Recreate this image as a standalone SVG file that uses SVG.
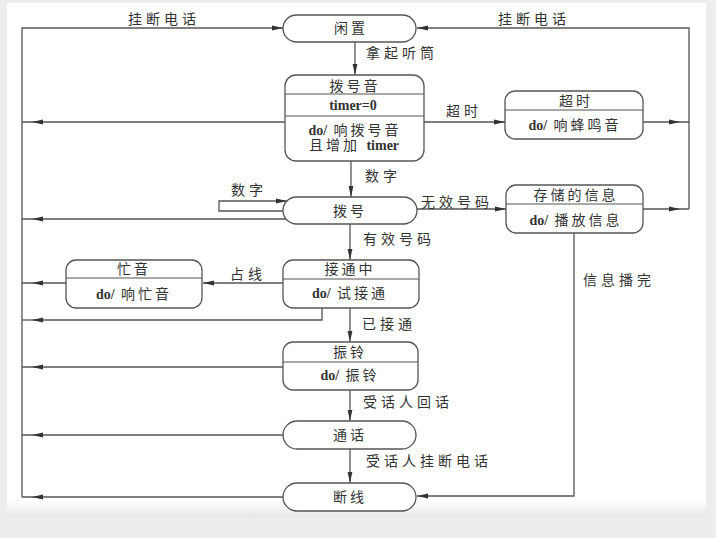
<svg xmlns="http://www.w3.org/2000/svg" width="716" height="538" viewBox="0 0 716 538">
<defs>
<marker id="ah" markerWidth="12" markerHeight="6" refX="11" refY="3" orient="auto" markerUnits="userSpaceOnUse">
<path d="M0,0.6 L11,3 L0,5.4 Z" fill="#333"/>
</marker>
<linearGradient id="bot" x1="0" y1="0" x2="0" y2="1">
<stop offset="0" stop-color="#ffffff"/>
<stop offset="1" stop-color="#e6e6e6"/>
</linearGradient>
<style>
.n{fill:#fff;stroke:#555;stroke-width:1.3}
.d{stroke:#555;stroke-width:1.2;fill:none}
.c{stroke:#555;stroke-width:1.3;fill:none}
.e{marker-end:url(#ah)}
.m{marker-mid:url(#ah)}
text{font-family:"Liberation Serif","Noto Sans CJK SC",serif;font-size:14px;fill:#333;dominant-baseline:central}
.t{text-anchor:middle;letter-spacing:3px}
.l{letter-spacing:4px}
.b{font-weight:bold;letter-spacing:0}
</style>
</defs>
<rect x="0" y="0" width="716" height="538" fill="#ededed"/>
<rect x="7" y="3" width="699" height="515" fill="#fff"/>
<rect x="7" y="500" width="699" height="18" fill="url(#bot)"/>

<g id="connectors">
<path class="c e" d="M355 42 V75"/>
<path class="c e" d="M351 161 V197"/>
<path class="c e" d="M350 224 V260"/>
<path class="c e" d="M350 308 V342"/>
<path class="c e" d="M350 390 V421"/>
<path class="c e" d="M350 449 V483"/>
<path class="c e" d="M424 122 H505"/>
<path class="c e" d="M417 209 H506"/>
<path class="c m" d="M643 122 H680 H689"/>
<path class="c m" d="M643 209 H680 H689"/>
<path class="c e" d="M689 209 V28 H417"/>
<path class="c e" d="M22 497 V28 H283"/>
<path class="c m" d="M285 122 H32 H22"/>
<path class="c m" d="M287 219 H32 H22"/>
<path class="c m" d="M66 283 H32 H22"/>
<path class="c e" d="M322 308 V320 H32"/>
<path class="c" d="M32 320 H22"/>
<path class="c m" d="M283 367 H32 H22"/>
<path class="c m" d="M283 435 H32 H22"/>
<path class="c m" d="M283 497 H32 H22"/>
<path class="c e" d="M283 283 H203"/>
<path class="c e" d="M283 211 H219 V201 H287"/>
<path class="c e" d="M574 233 V496 H417"/>
<text class="l" x="128" y="19">挂断电话</text>
<text class="l" x="498" y="19">挂断电话</text>
<text class="l" x="366" y="53">拿起听筒</text>
<text class="l" x="446" y="111">超时</text>
<text class="l" x="365" y="176">数字</text>
<text class="l" x="231" y="190">数字</text>
<text class="l" x="421" y="202">无效号码</text>
<text class="l" x="363" y="239">有效号码</text>
<text class="l" x="230" y="274">占线</text>
<text class="l" x="362" y="324">已接通</text>
<text class="l" x="583" y="280">信息播完</text>
<text class="l" x="363" y="402">受话人回话</text>
<text class="l" x="366" y="461">受话人挂断电话</text>
</g>

<g id="idle">
<rect class="n" x="283" y="15" width="133" height="27" rx="13.5"/>
<text class="t" x="351" y="28.5">闲置</text>
</g>

<g id="dialtone">
<rect class="n" x="285" y="75" width="139" height="86" rx="11"/>
<path class="d" d="M285 94 H424 M285 116 H424"/>
<text class="t" x="355" y="86">拨号音</text>
<text class="t b" x="353" y="105">timer=0</text>
<text class="t" x="355" y="130"><tspan class="b">do/</tspan> 响拨号音</text>
<text class="t" x="354" y="145">且增加 <tspan class="b">timer</tspan></text>
</g>

<g id="timeout">
<rect class="n" x="505" y="91" width="138" height="48" rx="10"/>
<path class="d" d="M505 110 H643"/>
<text class="t" x="576" y="101">超时</text>
<text class="t" x="575" y="125"><tspan class="b">do/</tspan> 响蜂鸣音</text>
</g>

<g id="dialing">
<rect class="n" x="283" y="197" width="134" height="27" rx="13.5"/>
<text class="t" x="350" y="211">拨号</text>
</g>

<g id="recorded">
<rect class="n" x="506" y="185" width="137" height="48" rx="10"/>
<path class="d" d="M506 204 H643"/>
<text class="t" x="576" y="195">存储的信息</text>
<text class="t" x="576" y="220"><tspan class="b">do/</tspan> 播放信息</text>
</g>

<g id="connecting">
<rect class="n" x="283" y="260" width="136" height="48" rx="10"/>
<path class="d" d="M283 279 H419"/>
<text class="t" x="350" y="269">接通中</text>
<text class="t" x="350" y="293"><tspan class="b">do/</tspan> 试接通</text>
</g>

<g id="busy">
<rect class="n" x="66" y="260" width="136" height="48" rx="10"/>
<path class="d" d="M66 278 H202"/>
<text class="t" x="134" y="269">忙音</text>
<text class="t" x="134" y="294"><tspan class="b">do/</tspan> 响忙音</text>
</g>

<g id="ringing">
<rect class="n" x="283" y="342" width="135" height="48" rx="10"/>
<path class="d" d="M283 362 H418"/>
<text class="t" x="350" y="352">振铃</text>
<text class="t" x="350" y="375"><tspan class="b">do/</tspan> 振铃</text>
</g>

<g id="talking">
<rect class="n" x="283" y="421" width="133" height="28" rx="14"/>
<text class="t" x="350" y="435">通话</text>
</g>

<g id="disconnected">
<rect class="n" x="283" y="483" width="133" height="28" rx="14"/>
<text class="t" x="350" y="497">断线</text>
</g>
</svg>
